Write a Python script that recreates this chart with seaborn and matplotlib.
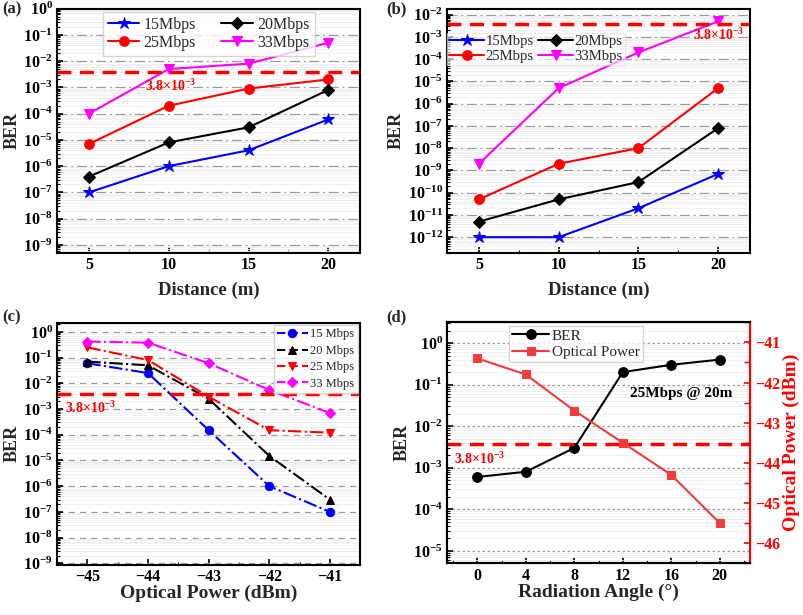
import numpy as np
import pandas as pd
import matplotlib
matplotlib.use("Agg")
import matplotlib.pyplot as plt
import matplotlib.ticker as mticker
import seaborn as sns

# ---- data ----
dist = [5, 10, 15, 20]
a_15 = [1e-7, 1e-6, 4e-6, 6e-5]
a_20 = [4e-7, 8e-6, 3e-5, 8e-4]
a_25 = [7e-6, 2e-4, 9e-4, 2e-3]
a_33 = [1e-4, 5e-3, 8e-3, 5e-2]

b_15 = [1e-12, 1e-12, 2e-11, 7e-10]
b_20 = [5e-12, 5e-11, 3e-10, 8e-8]
b_25 = [5e-11, 2e-9, 1e-8, 5e-6]
b_33 = [2e-9, 5e-6, 2e-4, 5e-3]

power = [-45, -44, -43, -42, -41]
c_15 = [6e-2, 2.5e-2, 1.5e-4, 1e-6, 1e-7]
c_20 = [7e-2, 5e-2, 2.5e-3, 1.5e-5, 3e-7]
c_25 = [2.5e-1, 8e-2, 3e-3, 1.5e-4, 1.2e-4]
c_33 = [4.2e-1, 3.8e-1, 6e-2, 5.5e-3, 7e-4]

angle = [0, 4, 8, 12, 16, 20]
d_ber = [6e-4, 8e-4, 3e-3, 2e-1, 3e-1, 4e-1]
d_pow = [-41.4, -41.8, -42.7, -43.5, -44.3, -45.5]

FEC = 3.8e-3
FEC_TEXT = r"3.8$\times$10$^{-3}$"

sns.set_theme(style="ticks")
plt.rcParams.update({
    "font.family": ["Liberation Serif", "DejaVu Serif"],
    "font.weight": "bold",
    "axes.labelweight": "bold",
    "font.size": 10,
    "mathtext.fontset": "custom",
    "mathtext.rm": "Liberation Serif:bold",
    "mathtext.bf": "Liberation Serif:bold",
    "mathtext.it": "Liberation Serif:bold:italic",
    "mathtext.default": "rm",
    "axes.linewidth": 1.5,
    "xtick.direction": "in",
    "ytick.direction": "in",
    "axes.edgecolor": "black",
    "xtick.color": "black",
    "ytick.color": "black",
})

BLUE, BLACK, RED, MAG = "#0000ff", "black", "#ff0000", "#ff00ff"
TICK_FS = 11.5

fig = plt.figure(figsize=(8.04, 6.15), dpi=100)
ax_a = fig.add_axes([0.071, 0.589, 0.377, 0.397])
ax_b = fig.add_axes([0.556, 0.589, 0.377, 0.397])
ax_c = fig.add_axes([0.071, 0.082, 0.377, 0.393])
ax_d = fig.add_axes([0.556, 0.084, 0.377, 0.392])


def style_log(ax, grid_ls):
    ax.set_yscale("log")
    ax.yaxis.set_major_locator(mticker.LogLocator(base=10, numticks=100))
    ax.yaxis.set_minor_locator(mticker.LogLocator(base=10, subs=np.arange(2, 10), numticks=100))
    ax.yaxis.set_minor_formatter(mticker.NullFormatter())
    ax.xaxis.set_minor_locator(mticker.AutoMinorLocator(2))
    ax.grid(True, which="minor", axis="y", color="#efefef", lw=0.6, ls="-")
    ax.grid(True, which="major", axis="y", color="#9a9a9a", lw=0.9, ls=grid_ls)
    ax.grid(False, axis="x")
    ax.set_axisbelow(True)
    ax.tick_params(which="major", length=4, width=1.2, labelsize=TICK_FS, pad=3)
    ax.tick_params(which="minor", length=2, width=0.8)
    for s in ax.spines.values():
        s.set_linewidth(1.5)
    ax.set_ylabel("BER", fontsize=13, labelpad=2)


def series(ax, x, y, color, marker, label, ls="-", ms=7):
    sns.lineplot(x=x, y=y, ax=ax, color=color, marker=marker, markersize=ms,
                 markeredgecolor=color, linestyle=ls, lw=1.5, label=label)


LEG = {"weight": "normal"}

# (a)
style_log(ax_a, (0, (8, 3, 1.5, 3)))
series(ax_a, dist, a_15, BLUE, "*", "15Mbps", ms=9)
series(ax_a, dist, a_25, RED, "o", "25Mbps")
series(ax_a, dist, a_20, BLACK, "D", "20Mbps", ms=6)
series(ax_a, dist, a_33, MAG, "v", "33Mbps")
ax_a.axhline(FEC, color=RED, ls=(0, (4, 2.5)), lw=2.5)
ax_a.text(10.1, 1.15e-3, FEC_TEXT, color=RED, ha="center", va="center", fontsize=10)
ax_a.set_xlim(3, 22)
ax_a.set_ylim(10 ** -9.3, 1)
ax_a.set_xticks(dist)
ax_a.set_xlabel("Distance (m)", fontsize=13.5, labelpad=6)
ax_a.legend(loc="upper center", ncol=2, prop=dict(LEG, size=11.5), frameon=True, fancybox=False,
            edgecolor="#cccccc", handlelength=2.0, handletextpad=0.25, columnspacing=1.6,
            borderaxespad=0.2, borderpad=0.3, labelspacing=0.15, bbox_to_anchor=(0.5, 1.0))

# (b)
style_log(ax_b, (0, (8, 3, 1.5, 3)))
series(ax_b, dist, b_15, BLUE, "*", "15Mbps", ms=9)
series(ax_b, dist, b_25, RED, "o", "25Mbps")
series(ax_b, dist, b_20, BLACK, "D", "20Mbps", ms=6)
series(ax_b, dist, b_33, MAG, "v", "33Mbps")
ax_b.axhline(FEC, color=RED, ls=(0, (4, 2.5)), lw=2.5)
ax_b.text(20.0, 1.2e-3, FEC_TEXT, color=RED, ha="center", va="center", fontsize=10)
ax_b.set_xlim(3, 22)
ax_b.set_ylim(10 ** -12.7, 10 ** -1.73)
ax_b.set_xticks(dist)
ax_b.set_xlabel("Distance (m)", fontsize=13.5, labelpad=6)
ax_b.legend(loc="upper left", ncol=2, prop=dict(LEG, size=10.5), frameon=True, fancybox=False,
            framealpha=0.6, edgecolor="#dddddd", handlelength=2.4, columnspacing=0.3,
            borderaxespad=0, borderpad=0.15, labelspacing=0.1, handletextpad=0.1,
            bbox_to_anchor=(0.0, 0.9))

# (c)
style_log(ax_c, (0, (5, 4)))
series(ax_c, power, c_15, BLUE, "o", "15 Mbps", ls="-.", ms=6)
series(ax_c, power, c_20, BLACK, "^", "20 Mbps", ls="-.", ms=6)
series(ax_c, power, c_25, RED, "v", "25 Mbps", ls="-.", ms=6)
series(ax_c, power, c_33, MAG, "D", "33 Mbps", ls="-.", ms=5)
ax_c.axhline(FEC, color=RED, ls=(0, (4, 2.5)), lw=2.5)
ax_c.text(-44.95, 1.05e-3, FEC_TEXT, color=RED, ha="center", va="center", fontsize=10)
ax_c.set_xlim(-45.5, -40.5)
ax_c.set_ylim(10 ** -9.05, 10 ** 0.35)
ax_c.set_xticks(power)
ax_c.set_xlabel("Optical Power (dBm)", fontsize=14, labelpad=0)
ax_c.legend(loc="upper right", prop=dict(LEG, size=9), frameon=True, fancybox=False,
            edgecolor="#cccccc", handlelength=2.5, borderaxespad=0.2,
            labelspacing=0.35, handletextpad=0.2, borderpad=0.25)
for line in ax_c.get_legend().get_lines():
    line.set_linestyle((0, (4, 2)))

# (d)
style_log(ax_d, (0, (2, 2)))
series(ax_d, angle, d_ber, BLACK, "o", "BER", ms=7)
ax_d.axhline(FEC, color=RED, ls=(0, (4, 2.5)), lw=2.5)
ax_d.text(0.2, 1.65e-3, FEC_TEXT, color=RED, ha="center", va="center", fontsize=10)
ax_d.text(16.8, 0.06, "25Mbps @ 20m", color="black", ha="center", va="center", fontsize=11)
ax_d.set_xlim(-2.5, 22.5)
ax_d.set_ylim(10 ** -5.3, 10 ** 0.5)
ax_d.set_xticks(angle)
ax_d.set_xlabel("Radiation Angle (°)", fontsize=14, labelpad=0)
ax_d.get_legend().remove()

PRED = "#f03c3c"
ax_d2 = ax_d.twinx()
sns.lineplot(x=angle, y=d_pow, ax=ax_d2, color=PRED, marker="s", markersize=6,
             markeredgecolor=PRED, lw=1.5, label="Optical Power")
ax_d2.set_ylim(-46.5, -40.5)
ax_d2.set_yticks([-41, -42, -43, -44, -45, -46])
ax_d2.yaxis.set_minor_locator(mticker.AutoMinorLocator(2))
ax_d2.set_ylabel("Optical Power (dBm)", fontsize=14, color=RED, labelpad=2)
ax_d2.tick_params(axis="y", which="both", colors=RED, labelsize=TICK_FS, direction="in")
ax_d2.tick_params(which="major", length=4, width=1.2)
ax_d2.spines["right"].set_color(RED)
ax_d2.spines["right"].set_linewidth(1.5)
ax_d2.get_legend().remove()
h1, l1 = ax_d.get_lines()[0], "BER"
h2, l2 = ax_d2.get_lines()[0], "Optical Power"
ax_d2.legend([h1, h2], [l1, l2], loc="upper left", bbox_to_anchor=(0.205, 0.985),
             prop=dict(LEG, size=11), frameon=True, fancybox=False, edgecolor="#cccccc",
             handlelength=2.4, borderaxespad=0.0, labelspacing=0.2, borderpad=0.2,
             handletextpad=0.2)

for txt, x, y in [("(a)", 0.003, 0.997), ("(b)", 0.481, 0.997),
                  ("(c)", 0.003, 0.497), ("(d)", 0.481, 0.497)]:
    fig.text(x, y, txt, fontsize=12, fontweight="bold", va="top", ha="left")

fig.savefig("out.png", dpi=100)
